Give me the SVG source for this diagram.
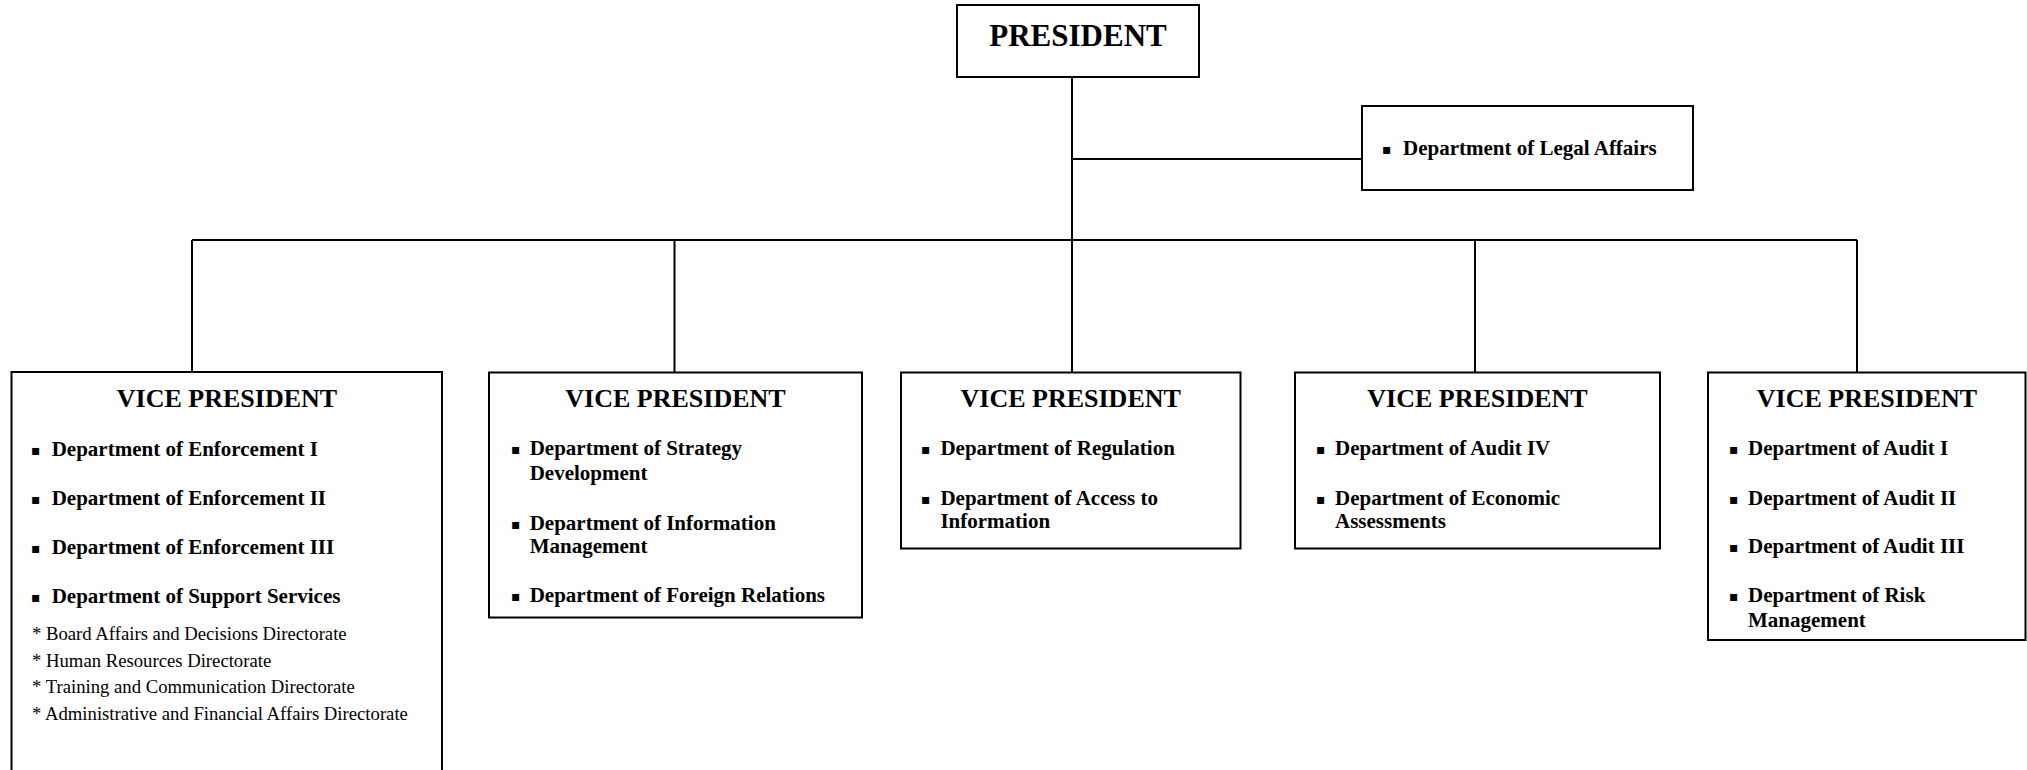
<svg xmlns="http://www.w3.org/2000/svg" width="2027" height="770" viewBox="0 0 2027 770">
<style>
.box{fill:#fff;stroke:#000;stroke-width:2}
.ln{stroke:#000;stroke-width:2;fill:none}
.t{font-family:"Liberation Serif","Times New Roman",serif;fill:#000}
.pres{font-size:31px;font-weight:bold;text-anchor:middle}
.vp{font-size:26px;font-weight:bold;text-anchor:middle}
.it{font-size:21px;font-weight:bold}
.sub{font-size:18.7px}
.b{font-family:"DejaVu Sans",sans-serif;font-size:14px;fill:#000}
</style>
<rect width="2027" height="770" fill="#fff"/>
<g id="connectors">
<path class="ln" d="M1072 77V372"/>
<path class="ln" d="M1072 159H1362"/>
<path class="ln" d="M192 240H1857"/>
<path class="ln" d="M192 240V372M674.5 240V372M1475 240V372M1857 240V372"/>
</g>
<g id="president">
<rect class="box" x="957" y="5" width="242" height="72"/>
<text class="t pres" x="1078" y="46">PRESIDENT</text>
</g>
<g id="legal">
<rect class="box" x="1362" y="106" width="331" height="84"/>
<text class="b" x="1382" y="154">▪</text>
<text class="t it" x="1403" y="155">Department of Legal Affairs</text>
</g>
<g id="vp1">
<rect class="box" x="11.5" y="372" width="430.5" height="410"/>
<text class="t vp" x="227" y="407">VICE PRESIDENT</text>
<text class="b" x="31" y="454.5">▪</text>
<text class="t it" x="51.7" y="455.5">Department of Enforcement I</text>
<text class="b" x="31" y="503.5">▪</text>
<text class="t it" x="51.7" y="504.5">Department of Enforcement II</text>
<text class="b" x="31" y="552.7">▪</text>
<text class="t it" x="51.7" y="553.7">Department of Enforcement III</text>
<text class="b" x="31" y="601.6">▪</text>
<text class="t it" x="51.7" y="602.6">Department of Support Services</text>
<text class="t sub" x="32" y="640">* Board Affairs and Decisions Directorate</text>
<text class="t sub" x="32" y="666.7">* Human Resources Directorate</text>
<text class="t sub" x="32" y="693.2">* Training and Communication Directorate</text>
<text class="t sub" x="32" y="719.8">* Administrative and Financial Affairs Directorate</text>
</g>
<g id="vp2">
<rect class="box" x="489" y="372.5" width="373" height="245"/>
<text class="t vp" x="675.5" y="407">VICE PRESIDENT</text>
<text class="b" x="511" y="454">▪</text>
<text class="t it" x="529.7" y="455">Department of Strategy</text>
<text class="t it" x="529.7" y="480">Development</text>
<text class="b" x="511" y="529">▪</text>
<text class="t it" x="529.7" y="530">Department of Information</text>
<text class="t it" x="529.7" y="553">Management</text>
<text class="b" x="511" y="601">▪</text>
<text class="t it" x="529.7" y="602">Department of Foreign Relations</text>
</g>
<g id="vp3">
<rect class="box" x="901" y="372.5" width="339.5" height="176"/>
<text class="t vp" x="1070.7" y="407">VICE PRESIDENT</text>
<text class="b" x="921" y="454">▪</text>
<text class="t it" x="940.4" y="455">Department of Regulation</text>
<text class="b" x="921" y="504">▪</text>
<text class="t it" x="940.4" y="505">Department of Access to</text>
<text class="t it" x="940.4" y="528.3">Information</text>
</g>
<g id="vp4">
<rect class="box" x="1295" y="372.5" width="365" height="176"/>
<text class="t vp" x="1477.5" y="407">VICE PRESIDENT</text>
<text class="b" x="1316" y="454">▪</text>
<text class="t it" x="1335" y="455">Department of Audit IV</text>
<text class="b" x="1316" y="504">▪</text>
<text class="t it" x="1335" y="505">Department of Economic</text>
<text class="t it" x="1335" y="528.3">Assessments</text>
</g>
<g id="vp5">
<rect class="box" x="1708" y="372.5" width="317.5" height="267.5"/>
<text class="t vp" x="1867" y="407">VICE PRESIDENT</text>
<text class="b" x="1729" y="454">▪</text>
<text class="t it" x="1748" y="455">Department of Audit I</text>
<text class="b" x="1729" y="503.5">▪</text>
<text class="t it" x="1748" y="504.5">Department of Audit II</text>
<text class="b" x="1729" y="552.3">▪</text>
<text class="t it" x="1748" y="553.3">Department of Audit III</text>
<text class="b" x="1729" y="600.7">▪</text>
<text class="t it" x="1748" y="601.7">Department of Risk</text>
<text class="t it" x="1748" y="626.7">Management</text>
</g>
</svg>
